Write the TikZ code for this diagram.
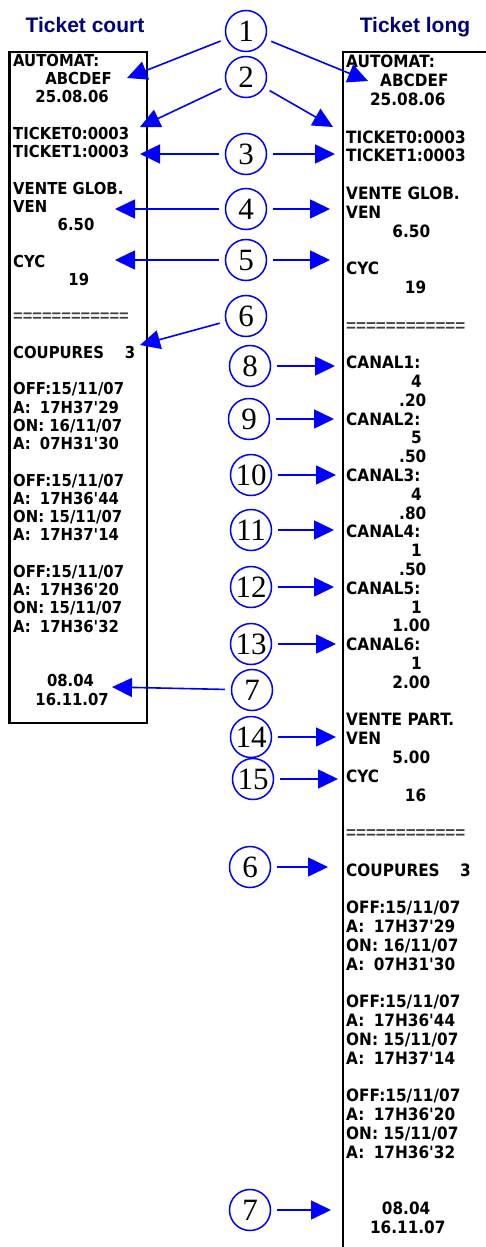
\documentclass[tikz,border=0pt]{standalone}
\usepackage{fontspec}
\usetikzlibrary{arrows.meta}
\newfontfamily\tkfont[FakeStretch=0.9,Ligatures=TeXOff]{DejaVu Sans}
\newfontfamily\eqfont{Liberation Sans}
\newfontfamily\numfont{Liberation Serif}
\newfontfamily\ttlfont{Liberation Sans}
\definecolor{ttlblue}{RGB}{0,0,128}

\newcommand\tkind[2]{\hspace*{#1em}#2}
\newcommand\tkA[1]{A:\hspace{.55em}#1}
\newcommand\tkeq{{\eqfont\color{black!75}============}}

\tikzset{
  ticket/.style={anchor=north west,inner sep=0pt,align=left},
  tkcourt/.style={ticket,font=\tkfont\bfseries\fontsize{16.5}{18.25}\selectfont},
  tklong/.style={ticket,font=\tkfont\bfseries\fontsize{17}{18.8}\selectfont},
  ttl/.style={anchor=base,text=ttlblue,font=\ttlfont\bfseries\fontsize{21}{21}\selectfont},
  num/.style={circle,draw=blue,line width=1.5pt,minimum size=41pt,inner sep=0pt,
    font=\numfont\fontsize{31}{31}\selectfont},
  arr/.style={-{Triangle[length=20pt,width=19pt]},blue,line width=1.6pt,shorten <=6pt},
  paper/.style={line width=2.4pt}
}

\begin{document}
\begin{tikzpicture}[x=1pt,y=-1pt]
  \useasboundingbox (0,0) rectangle (485,1247);

  % titles
  \node[ttl] (tcourt) at (85,33) {Ticket court};
  \node[ttl] (tlong) at (415,33) {Ticket long};

  % short ticket
  \draw[paper] (9.5,52) rectangle (147,723);
  \node[tkcourt] (court) at (13,54) {AUTOMAT:\\
    \tkind{1.95}{ABCDEF}\\
    \tkind{1.35}{25.08.06}\\
    \\
    TICKET0:0003\\
    TICKET1:0003\\
    \\
    VENTE GLOB.\\
    VEN\\
    \tkind{2.7}{6.50}\\
    \\
    CYC\\
    \tkind{3.35}{19}\\
    \\
    \tkeq\\
    \\
    COUPURES\hspace{1.27em}3\\
    \\
    OFF:15/11/07\\
    \tkA{17H37'29}\\
    ON: 16/11/07\\
    \tkA{07H31'30}\\
    \\
    OFF:15/11/07\\
    \tkA{17H36'44}\\
    ON: 15/11/07\\
    \tkA{17H37'14}\\
    \\
    OFF:15/11/07\\
    \tkA{17H36'20}\\
    ON: 15/11/07\\
    \tkA{17H36'32}\\
    \\
    \\
    \tkind{2.05}{08.04}\\
    \tkind{1.35}{16.11.07}};

  % long ticket
  \draw[paper] (343,1250) -- (343,52) -- (490,52);
  \node[tklong] (long) at (346,55) {AUTOMAT:\\
    \tkind{2}{ABCDEF}\\
    \tkind{1.4}{25.08.06}\\
    \\
    TICKET0:0003\\
    TICKET1:0003\\
    \\
    VENTE GLOB.\\
    VEN\\
    \tkind{2.72}{6.50}\\
    \\
    CYC\\
    \tkind{3.45}{19}\\
    \\
    \tkeq\\
    \\
    CANAL1:\\
    \tkind{3.82}{4}\\
    \tkind{3.12}{.20}\\
    CANAL2:\\
    \tkind{3.82}{5}\\
    \tkind{3.12}{.50}\\
    CANAL3:\\
    \tkind{3.82}{4}\\
    \tkind{3.12}{.80}\\
    CANAL4:\\
    \tkind{3.82}{1}\\
    \tkind{3.12}{.50}\\
    CANAL5:\\
    \tkind{3.82}{1}\\
    \tkind{2.72}{1.00}\\
    CANAL6:\\
    \tkind{3.82}{1}\\
    \tkind{2.72}{2.00}\\
    \\
    VENTE PART.\\
    VEN\\
    \tkind{2.72}{5.00}\\
    CYC\\
    \tkind{3.45}{16}\\
    \\
    \tkeq\\
    \\
    COUPURES\hspace{1.2em}3\\
    \\
    OFF:15/11/07\\
    \tkA{17H37'29}\\
    ON: 16/11/07\\
    \tkA{07H31'30}\\
    \\
    OFF:15/11/07\\
    \tkA{17H36'44}\\
    ON: 15/11/07\\
    \tkA{17H37'14}\\
    \\
    OFF:15/11/07\\
    \tkA{17H36'20}\\
    ON: 15/11/07\\
    \tkA{17H36'32}\\
    \\
    \\
    \tkind{2.1}{08.04}\\
    \tkind{1.4}{16.11.07}};

  % arrow ends
  \coordinate (autoC) at (127,78);
  \coordinate (tk0C) at (140,127);
  \coordinate (tk1C) at (140,154);
  \coordinate (venC) at (115,209);
  \coordinate (cycC) at (115,260);
  \coordinate (coupC) at (140,345);
  \coordinate (dateC) at (112,687);
  \coordinate (autoL) at (368,81);
  \coordinate (tk0L) at (333,127);
  \coordinate (tk1L) at (335,154);
  \coordinate (venL) at (330,209);
  \coordinate (cycL) at (330,260);
  \coordinate (can1L) at (335,366);
  \coordinate (can2L) at (334,419);
  \coordinate (can3L) at (336,475);
  \coordinate (can4L) at (334,530);
  \coordinate (can5L) at (334,587);
  \coordinate (can6L) at (336,644);
  \coordinate (venpL) at (336,737);
  \coordinate (cycpL) at (338,779);
  \coordinate (coupL) at (328,867);
  \coordinate (dateL) at (331,1210);

  % numbers
  \node[num] (n1) at (246,31) {1};
  \node[num] (n2) at (246,77) {2};
  \node[num] (n3) at (246,154) {3};
  \node[num] (n4) at (246,209) {4};
  \node[num] (n5) at (246,260) {5};
  \node[num] (n6) at (246,316) {6};
  \node[num] (n8) at (250,366) {8};
  \node[num] (n9) at (249,419) {9};
  \node[num] (n10) at (251,475) {10};
  \node[num] (n11) at (251,530) {11};
  \node[num] (n12) at (251,587) {12};
  \node[num] (n13) at (251,644) {13};
  \node[num] (n7) at (252,690) {7};
  \node[num] (n14) at (251,737) {14};
  \node[num] (n15) at (253,779) {15};
  \node[num] (n6b) at (250,867) {6};
  \node[num] (n7b) at (250,1210) {7};

  \draw[arr] (n1) -- (autoC);
  \draw[arr] (n1) -- (autoL);
  \draw[arr] (n2) -- (tk0C);
  \draw[arr] (n2) -- (tk0L);
  \draw[arr] (n3) -- (tk1C);
  \draw[arr] (n3) -- (tk1L);
  \draw[arr] (n4) -- (venC);
  \draw[arr] (n4) -- (venL);
  \draw[arr] (n5) -- (cycC);
  \draw[arr] (n5) -- (cycL);
  \draw[arr] (n6) -- (coupC);
  \draw[arr] (n8) -- (can1L);
  \draw[arr] (n9) -- (can2L);
  \draw[arr] (n10) -- (can3L);
  \draw[arr] (n11) -- (can4L);
  \draw[arr] (n12) -- (can5L);
  \draw[arr] (n13) -- (can6L);
  \draw[arr] (n7) -- (dateC);
  \draw[arr] (n14) -- (venpL);
  \draw[arr] (n15) -- (cycpL);
  \draw[arr] (n6b) -- (coupL);
  \draw[arr] (n7b) -- (dateL);
\end{tikzpicture}
\end{document}
